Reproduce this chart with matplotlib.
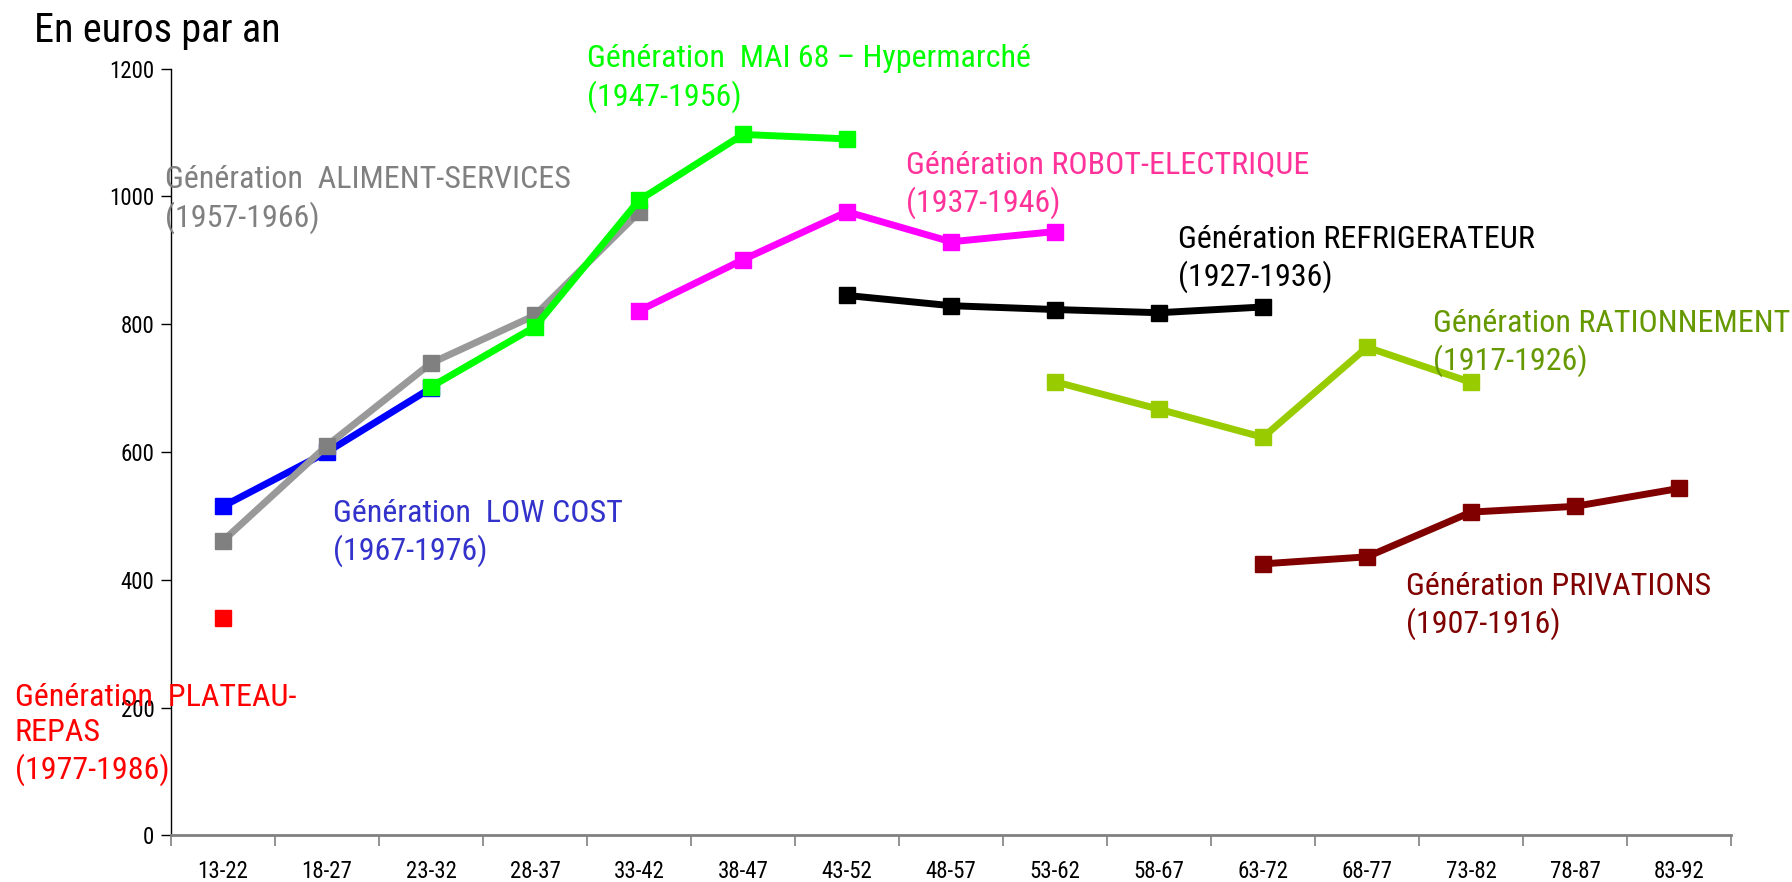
import numpy as np
import matplotlib
matplotlib.use("Agg")
import matplotlib.pyplot as plt
from matplotlib import font_manager
from matplotlib.ticker import FixedLocator, NullFormatter

# Narrow font if there is one, else Arial-metric Liberation Sans a bit smaller
installed = {f.name for f in font_manager.fontManager.ttflist}
narrow = [n for n in ("Liberation Sans Narrow", "Arial Narrow", "DejaVu Sans Condensed",
                      "Roboto Condensed", "Open Sans Condensed", "Noto Sans Condensed")
          if n in installed]
if narrow:
    plt.rcParams["font.family"] = [narrow[0], "DejaVu Sans"]
    k = 1.0
else:
    plt.rcParams["font.family"] = ["Liberation Sans", "DejaVu Sans"]
    k = 0.86

# ── Data ────────────────────────────────────────────────────────────
age_groups = ["13-22", "18-27", "23-32", "28-37", "33-42", "38-47", "43-52",
              "48-57", "53-62", "58-67", "63-72", "68-77", "73-82", "78-87", "83-92"]

NA = np.nan
low_cost       = [515, 600, 700, NA, NA, NA, NA, NA, NA, NA, NA, NA, NA, NA, NA]
aliment_serv   = [461, 610, 739, 814, 975, NA, NA, NA, NA, NA, NA, NA, NA, NA, NA]
mai_68         = [NA, NA, 702, 796, 994, 1097, 1090, NA, NA, NA, NA, NA, NA, NA, NA]
robot_elec     = [NA, NA, NA, NA, 821, 901, 976, 929, 945, NA, NA, NA, NA, NA, NA]
refrigerateur  = [NA, NA, NA, NA, NA, NA, 845, 829, 823, 818, 827, NA, NA, NA, NA]
rationnement   = [NA, NA, NA, NA, NA, NA, NA, NA, 710, 667, 623, 764, 709, NA, NA]
privations     = [NA, NA, NA, NA, NA, NA, NA, NA, NA, NA, 425, 436, 506, 515, 543]
plateau_repas  = [340, NA, NA, NA, NA, NA, NA, NA, NA, NA, NA, NA, NA, NA, NA]

# (values, line colour, marker colour, label text, label colour,
#  label position = left edge / baseline of the last line)
series = [
    (low_cost, "#0000FF", "#0000FF",
     "Génération  LOW COST\n(1967-1976)", "#3333CC", (1.06, 431)),
    (aliment_serv, "#999999", "#808080",
     "Génération  ALIMENT-SERVICES\n(1957-1966)", "#808080", (-0.56, 953)),
    (mai_68, "#00FF00", "#00FF00",
     "Génération  MAI 68 – Hypermarché\n(1947-1956)", "#00FF00", (3.5, 1142)),
    (robot_elec, "#FF00FF", "#FF00FF",
     "Génération ROBOT-ELECTRIQUE\n(1937-1946)", "#FF3399", (6.57, 976)),
    (refrigerateur, "#000000", "#000000",
     "Génération REFRIGERATEUR\n(1927-1936)", "#000000", (9.18, 860)),
    (rationnement, "#99CC00", "#99CC00",
     "Génération RATIONNEMENT\n(1917-1926)", "#669900", (11.63, 728)),
    (privations, "#800000", "#800000",
     "Génération PRIVATIONS\n(1907-1916)", "#800000", (11.37, 317)),
    (plateau_repas, "#FF0000", "#FF0000",
     "Génération  PLATEAU-\nREPAS\n(1977-1986)", "#FF0000", (-2.0, 88)),
]

# ── Plot ────────────────────────────────────────────────────────────
fig = plt.figure(figsize=(17.92, 8.82), dpi=100)
ax = fig.add_axes([0.0954, 0.0528, 0.8706, 0.8694])

x = np.arange(len(age_groups))
for vals, lc, mc, text, tc, (tx, ty) in series:
    ax.plot(x, vals, color=lc, linewidth=5, marker="s", markersize=11.5,
            markerfacecolor=mc, markeredgecolor=mc, solid_joinstyle="miter")
    ax.text(tx, ty, text, color=tc, fontsize=23 * k, ha="left", va="baseline",
            linespacing=1.27 / k, zorder=5)

ax.set_xlim(-0.5, len(age_groups) - 0.5)
ax.set_ylim(0, 1200)
ax.set_yticks(np.arange(0, 1201, 200))

ax.set_xticks(x)
ax.set_xticklabels(age_groups)
ax.xaxis.set_minor_locator(FixedLocator(np.arange(-0.5, len(age_groups), 1)))
ax.xaxis.set_minor_formatter(NullFormatter())
ax.tick_params(axis="x", which="major", length=0, pad=18, labelsize=16.5 * k)
ax.tick_params(axis="x", which="minor", length=8, width=1.2, color="#808080",
               direction="out")
ax.tick_params(axis="y", length=7, width=1, pad=5, labelsize=16.5 * k,
               direction="out")

for side in ("top", "right"):
    ax.spines[side].set_visible(False)
ax.spines["left"].set_linewidth(1)
ax.spines["bottom"].set_linewidth(2)
ax.spines["bottom"].set_color("#808080")

fig.text(34 / 1792, 1 - 42 / 882, "En euros par an", fontsize=29 * k,
         ha="left", va="baseline")

fig.savefig("out.png", dpi=100)
plt.close(fig)
